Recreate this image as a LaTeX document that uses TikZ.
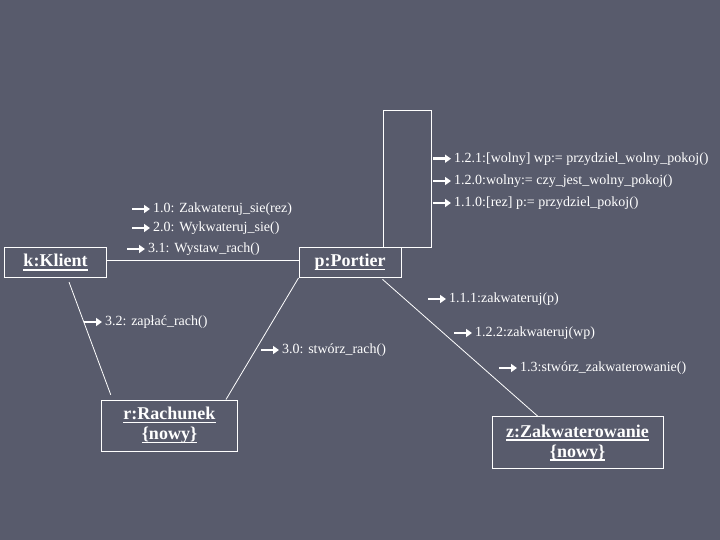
\documentclass[tikz,border=0pt]{standalone}
\usepackage{fontspec}
\setmainfont{Liberation Serif}
\usetikzlibrary{arrows.meta,calc}
\definecolor{bgc}{HTML}{585B6C}
\newcommand{\ulbold}[1]{\setbox0\hbox{#1}\rlap{\vrule width \wd0 height -2pt depth 3.6pt}\box0}
\tikzset{
  obj/.style={draw=white, line width=1pt, text=white, inner sep=0pt, align=center,
    font=\fontsize{18}{20}\selectfont\bfseries},
  conn/.style={draw=white, line width=0.8pt},
  msg/.style={text=white, inner sep=0pt, anchor=west, font=\fontsize{14}{16}\selectfont},
  msgarrow/.style={draw=white, line width=2.4pt, -{Triangle[length=6pt,width=8pt]}},
}
\newcommand{\msgarr}[1]{\draw[msgarrow] ([xshift=-21pt]#1.west) -- ([xshift=-3pt]#1.west);}
\begin{document}
\begin{tikzpicture}[x=1pt,y=-1pt]
\fill[bgc] (0,0) rectangle (720,540);
\useasboundingbox (0,0) rectangle (720,540);

% objects
\node[obj, minimum width=102pt, minimum height=30pt] (k) at (55.5,262.5) {\ulbold{k:Klient}};
\node[obj, minimum width=102pt, minimum height=30pt] (p) at (350,262.5) {\ulbold{p:Portier}};
\node[obj, minimum width=136pt, minimum height=51pt] (r) at (169.5,425.5) {\ulbold{r:Rachunek}\\\ulbold{\{nowy\}}};
\node[obj, minimum width=171pt, minimum height=51.5pt] (z) at (577.5,442.7) {\ulbold{z:Zakwaterowanie}\\\ulbold{\{nowy\}}};

% self loop on Portier
\coordinate (l1) at ($(p.north west)+(85,0)$);
\coordinate (l2) at ($(p.north east)+(29.5,-136)$);
\draw[white, line width=1pt] (l1) |- (l2) |- (p.north east);

% connectors
\draw[conn] ([yshift=2pt]k.east) -- ([yshift=2pt]p.west);
\draw[conn, shorten <=4.5pt, shorten >=5pt] ([xshift=12pt]k.south) -- ([xshift=-57pt]r.north);
\draw[conn] (p.south west) -- ([xshift=56.5pt]r.north);
\draw[conn, shorten <=2pt] ([xshift=31pt]p.south) -- ([xshift=-39.5pt]z.north);

% messages
\node[msg] (m121) at (454,158.7) {1.2.1:[wolny] wp:= przydziel\_wolny\_pokoj()};
\node[msg] (m120) at (454,181) {1.2.0:wolny:= czy\_jest\_wolny\_pokoj()};
\node[msg] (m110) at (454,203) {1.1.0:[rez] p:= przydziel\_pokoj()};
\node[msg] (m10) at (153,209) {1.0: Zakwateruj\_sie(rez)};
\node[msg] (m20) at (153,228) {2.0: Wykwateruj\_sie()};
\node[msg] (m31) at (148,249) {3.1: Wystaw\_rach()};
\node[msg] (m111) at (449,299) {1.1.1:zakwateruj(p)};
\node[msg] (m122) at (475,333) {1.2.2:zakwateruj(wp)};
\node[msg] (m13) at (520,368) {1.3:stwórz\_zakwaterowanie()};
\node[msg] (m32) at (105,322) {3.2: zapłać\_rach()};
\node[msg] (m30) at (282,350) {3.0: stwórz\_rach()};
\foreach \m in {m121,m120,m110,m10,m20,m31,m111,m122,m13,m32,m30} {\msgarr{\m}}
\end{tikzpicture}
\end{document}
